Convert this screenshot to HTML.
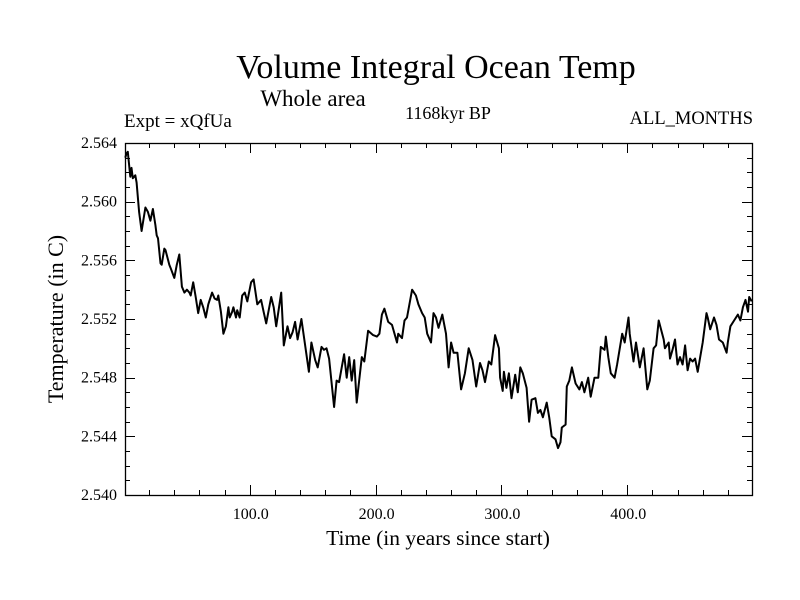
<!DOCTYPE html>
<html><head><meta charset="utf-8"><style>
html,body{margin:0;padding:0;background:#fff;}
svg{display:block;font-family:"Liberation Serif",serif;}
</style></head><body>
<svg id="chart" width="800" height="600" viewBox="0 0 800 600">
<text x="436" y="78" font-size="34" text-anchor="middle">Volume Integral Ocean Temp</text>
<text x="313" y="106" font-size="23" text-anchor="middle">Whole area</text>
<text x="124" y="127" font-size="19">Expt = xQfUa</text>
<text x="448" y="119" font-size="18" text-anchor="middle">1168kyr BP</text>
<text x="753" y="124" font-size="18.5" text-anchor="end">ALL_MONTHS</text>
<text x="438" y="545" font-size="21.5" text-anchor="middle">Time (in years since start)</text>
<text transform="translate(63,319) rotate(-90)" font-size="22" text-anchor="middle">Temperature (in C)</text>
<g id="axes"></g>
<path id="series" fill="none" stroke="#000" stroke-width="2" stroke-linejoin="round"/>
</svg>
<script>
const years = [1,2,3,5,6,7,9,10,12,14,17,19,21,23,25,26,27,29,30,32,33,36,37,40,42,44,46,48,50,52,53,55,57,59,61,63,65,67,70,72,74,75,77,79,81,83,84,86,87,89,90,92,94,96,98,101,103,106,109,111,113,117,119,121,125,127,130,132,134,136,138,141,143,147,149,152,154,157,159,161,163,167,169,171,175,177,179,181,183,185,189,191,194,198,201,203,205,207,210,213,215,217,218,221,223,225,229,232,234,237,239,241,244,246,248,250,253,256,258,260,262,265,268,271,274,277,280,283,285,287,290,292,295,298,299,301,302,304,306,308,311,313,315,317,320,322,324,327,329,331,333,336,338,340,343,345,347,348,351,352,354,356,359,362,364,366,369,371,374,377,379,382,383,385,387,390,392,396,398,401,402,405,407,410,413,416,418,421,423,425,429,430,433,434,436,438,440,442,444,446,448,450,452,454,456,458,460,463,464,466,469,471,473,476,479,480,482,485,488,490,492,494,496,497,499];
const temps = [2.5630,2.5633,2.5634,2.5617,2.5623,2.5616,2.5618,2.5613,2.5593,2.5580,2.5596,2.5593,2.5587,2.5595,2.5584,2.5577,2.5575,2.5558,2.5557,2.5568,2.5567,2.5557,2.5555,2.5548,2.5557,2.5564,2.5542,2.5538,2.5540,2.5538,2.5536,2.5545,2.5535,2.5524,2.5533,2.5528,2.5521,2.5530,2.5538,2.5534,2.5533,2.5536,2.5525,2.5510,2.5515,2.5528,2.5521,2.5525,2.5528,2.5521,2.5526,2.5521,2.5536,2.5538,2.5532,2.5545,2.5547,2.5530,2.5533,2.5525,2.5517,2.5535,2.5528,2.5515,2.5538,2.5502,2.5515,2.5507,2.5511,2.5518,2.5506,2.5520,2.5508,2.5484,2.5504,2.5492,2.5487,2.5501,2.5499,2.5500,2.5493,2.5460,2.5478,2.5477,2.5496,2.5480,2.5494,2.5478,2.5492,2.5463,2.5494,2.5491,2.5512,2.5509,2.5508,2.5510,2.5523,2.5527,2.5518,2.5516,2.5510,2.5504,2.5510,2.5507,2.5519,2.5521,2.5540,2.5536,2.5530,2.5524,2.5521,2.5510,2.5504,2.5524,2.5521,2.5514,2.5523,2.5510,2.5487,2.5504,2.5497,2.5497,2.5472,2.5483,2.5500,2.5492,2.5474,2.5490,2.5485,2.5477,2.5491,2.5489,2.5509,2.5500,2.5480,2.5471,2.5484,2.5473,2.5483,2.5466,2.5482,2.5470,2.5487,2.5483,2.5473,2.5450,2.5465,2.5466,2.5456,2.5458,2.5453,2.5463,2.5453,2.5440,2.5438,2.5432,2.5436,2.5446,2.5448,2.5474,2.5478,2.5487,2.5476,2.5472,2.5477,2.5470,2.5480,2.5467,2.5480,2.5480,2.5501,2.5499,2.5508,2.5494,2.5483,2.5480,2.5489,2.5510,2.5504,2.5521,2.5510,2.5491,2.5504,2.5487,2.5500,2.5472,2.5478,2.5500,2.5502,2.5519,2.5506,2.5500,2.5504,2.5493,2.5499,2.5506,2.5489,2.5494,2.5489,2.5502,2.5485,2.5493,2.5491,2.5493,2.5484,2.5494,2.5504,2.5524,2.5521,2.5513,2.5521,2.5516,2.5506,2.5504,2.5497,2.5504,2.5515,2.5519,2.5523,2.5519,2.5528,2.5533,2.5525,2.5535,2.5532];
const xTickValues = [100,200,300,400];
const xTickLabels = ["100.0","200.0","300.0","400.0"];
const yTickValues = [2.540,2.544,2.548,2.552,2.556,2.560,2.564];
const yTickLabels = ["2.540","2.544","2.548","2.552","2.556","2.560","2.564"];

const X0=125, X1=752, Y0=143, Y1=495;
const xMin=0.8, xMax=499.2, yMin=2.540, yMax=2.564;
function xs(v){return X0+(v-xMin)/(xMax-xMin)*(X1-X0);}
function ys(v){return Y1-(v-yMin)/(yMax-yMin)*(Y1-Y0);}
const NS="http://www.w3.org/2000/svg";
const axes=document.getElementById('axes');
function line(x1,y1,x2,y2,name){
  const l=document.createElementNS(NS,'line');
  l.setAttribute('x1',x1);l.setAttribute('y1',y1);l.setAttribute('x2',x2);l.setAttribute('y2',y2);
  l.setAttribute('stroke','#000');l.setAttribute('stroke-width','1');
  
  
  axes.appendChild(l);
}
function text(x,y,s,anchor,name){
  const t=document.createElementNS(NS,'text');
  t.setAttribute('x',x);t.setAttribute('y',y);t.setAttribute('font-size','16');t.setAttribute('text-anchor',anchor);
  t.textContent=s;
  
  
  axes.appendChild(t);
}
const fr=document.createElementNS(NS,'rect');
fr.setAttribute('x',X0+0.5);fr.setAttribute('y',Y0+0.5);fr.setAttribute('width',X1-X0);fr.setAttribute('height',Y1-Y0);
fr.setAttribute('fill','none');fr.setAttribute('stroke','#000');fr.setAttribute('stroke-width','1.3');


axes.appendChild(fr);
for(let v=20;v<xMax;v+=20){
  const x=Math.round(xs(v))+0.5;
  const major=(v%100===0);
  const len=major?10:5;
  line(x,Y1,x,Y1-len,'x-tick');
  line(x,Y0,x,Y0+len,'x-tick-top');
}
xTickValues.forEach((v,i)=>text(xs(v)+1,519,xTickLabels[i],'middle','x-tick-label'));
for(let k=1;k<24;k++){
  const v=yMin+k*0.001;
  const y=Math.round(ys(v))+0.5;
  const major=(k%4===0);
  const len=major?10:5;
  line(X0,y,X0+len,y,'y-tick');
  line(X1,y,X1-len,y,'y-tick-right');
}
yTickValues.forEach((v,i)=>text(117,ys(v)+5,yTickLabels[i],'end','y-tick-label'));
let d='';
years.forEach((yr,i)=>{d+=(i?'L':'M')+xs(yr).toFixed(1)+','+ys(temps[i]).toFixed(1);});
document.getElementById('series').setAttribute('d',d);
</script>
</body></html>
